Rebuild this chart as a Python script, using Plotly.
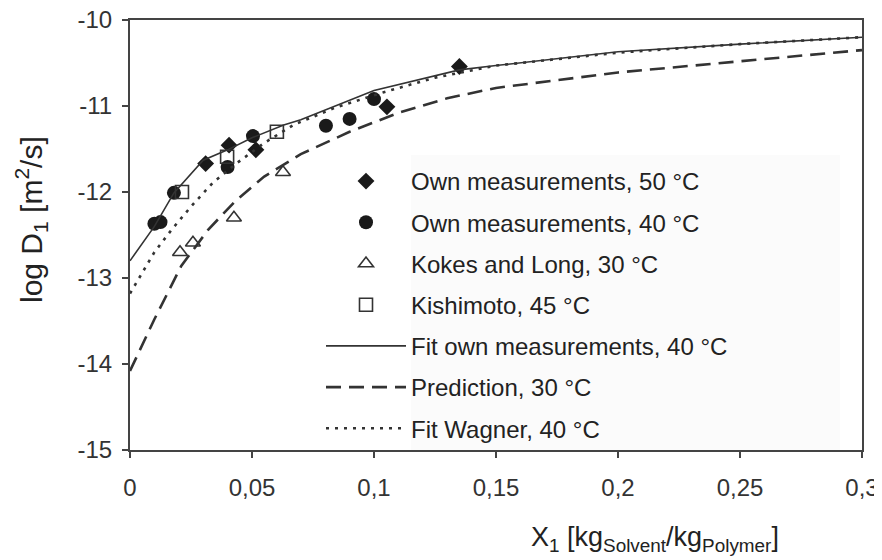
import plotly.graph_objects as go

# ---- data ----
own50_x = [0.031, 0.0406, 0.0516, 0.1053, 0.135]
own50_y = [-11.67, -11.455, -11.51, -11.01, -10.54]

own40_x = [0.0100, 0.0125, 0.018, 0.040, 0.0504, 0.0803, 0.090, 0.100]
own40_y = [-12.37, -12.35, -12.01, -11.71, -11.35, -11.23, -11.15, -10.92]

kokes_x = [0.0205, 0.0258, 0.0426, 0.0627]
kokes_y = [-12.70, -12.59, -12.30, -11.77]

kishi_x = [0.0213, 0.0398, 0.0602]
kishi_y = [-12.00, -11.59, -11.30]

fit_own_x = [0, 0.01, 0.018, 0.03, 0.04, 0.05, 0.063, 0.07, 0.1, 0.135, 0.15, 0.2, 0.25, 0.3]
fit_own_y = [-12.80, -12.40, -12.01, -11.63, -11.51, -11.37, -11.22, -11.16, -10.82, -10.58,
             -10.53, -10.37, -10.28, -10.20]

wagner_x = [0, 0.01, 0.017, 0.025, 0.034, 0.044, 0.055, 0.067, 0.084, 0.104, 0.125, 0.15,
            0.2, 0.25, 0.3]
wagner_y = [-13.18, -12.70, -12.44, -12.17, -11.89, -11.66, -11.43, -11.22, -11.02, -10.84,
            -10.67, -10.53, -10.38, -10.28, -10.20]

pred_x = [0, 0.01, 0.021, 0.032, 0.043, 0.055, 0.07, 0.09, 0.11, 0.13, 0.15, 0.2, 0.25, 0.3]
pred_y = [-14.08, -13.48, -12.86, -12.44, -12.11, -11.82, -11.56, -11.30, -11.08, -10.91,
          -10.79, -10.61, -10.48, -10.35]

x_ticks = [0, 0.05, 0.1, 0.15, 0.2, 0.25, 0.3]
x_ticklabels = ["0", "0,05", "0,1", "0,15", "0,2", "0,25", "0,3"]
y_ticks = [-15, -14, -13, -12, -11, -10]
y_ticklabels = ["-15", "-14", "-13", "-12", "-11", "-10"]

INK = "#1a1a1a"
FONT = "Liberation Sans, Arial, sans-serif"

fig = go.Figure()

fig.add_trace(go.Scatter(x=own50_x, y=own50_y, mode="markers", name="Own measurements, 50 °C",
                         legendgroup="a",
                         marker=dict(symbol="diamond", size=13, color=INK)))
fig.add_trace(go.Scatter(x=own40_x, y=own40_y, mode="markers", name="Own measurements, 40 °C",
                         legendgroup="b",
                         marker=dict(symbol="circle", size=14, color=INK)))
fig.add_trace(go.Scatter(x=kokes_x, y=kokes_y, mode="markers", name="Kokes and Long, 30 °C",
                         legendgroup="c",
                         marker=dict(symbol="triangle-up-open", size=13, color="#333",
                                     line=dict(width=1.6, color="#333"))))
fig.add_trace(go.Scatter(x=kishi_x, y=kishi_y, mode="markers", name="Kishimoto, 45 °C",
                         legendgroup="d",
                         marker=dict(symbol="square-open", size=13, color="#333",
                                     line=dict(width=1.6, color="#333"))))
fig.add_trace(go.Scatter(x=fit_own_x, y=fit_own_y, mode="lines",
                         name="Fit own measurements, 40 °C", legendgroup="e",
                         line=dict(color="#333", width=1.6)))
fig.add_trace(go.Scatter(x=pred_x, y=pred_y, mode="lines", name="Prediction, 30 °C",
                         legendgroup="f",
                         line=dict(color="#333", width=2.6, dash="15px,8px")))
fig.add_trace(go.Scatter(x=wagner_x, y=wagner_y, mode="lines", name="Fit Wagner, 40 °C",
                         legendgroup="g",
                         line=dict(color="#333", width=2.6, dash="3px,6px")))

axis_common = dict(showline=True, linecolor="#444", linewidth=2, mirror=True,
                   ticks="outside", ticklen=6, tickwidth=1.5, tickcolor="#444",
                   showgrid=False, zeroline=False, automargin=False,
                   ticklabeloverflow="allow",
                   tickfont=dict(family=FONT, size=24, color="#333"))

fig.update_xaxes(range=[0, 0.3], tickvals=x_ticks, ticktext=x_ticklabels,
                 ticklabelstandoff=9, **axis_common)
fig.update_yaxes(range=[-15, -10], tickvals=y_ticks, ticktext=y_ticklabels,
                 ticklabelstandoff=5, **axis_common)

fig.add_shape(type="rect", xref="paper", yref="paper",
              x0=(411 - 130) / 732, x1=(840 - 130) / 732,
              y0=0.0, y1=(450 - 155) / 430,
              fillcolor="#fbfbfb", line=dict(width=0), layer="below")

fig.add_annotation(text="log D<sub>1</sub> [m<sup>2</sup>/s]", xref="paper", yref="paper",
                   x=(31 - 130) / 732, y=(450 - 219) / 430, showarrow=False,
                   xanchor="center", yanchor="middle",
                   textangle=-90, font=dict(family=FONT, size=30, color="#222"))
fig.add_annotation(text="X<sub>1</sub> [kg<sub>Solvent</sub>/kg<sub>Polymer</sub>]",
                   xref="paper", yref="paper",
                   x=(655 - 130) / 732, y=(450 - 539) / 430, showarrow=False,
                   xanchor="center", yanchor="middle",
                   font=dict(family=FONT, size=27, color="#222"))

# page body adds an 8px offset; figure is sized so the plot area lands at 130..862 x 20..450
fig.update_layout(
    width=874, height=552,
    margin=dict(l=122, r=20, t=12, b=110),
    paper_bgcolor="white", plot_bgcolor="white",
    font=dict(family=FONT, color="#222"),
    showlegend=True,
    legend=dict(x=(321 - 130) / 732, y=(450 - 159) / 430, xanchor="left", yanchor="top",
                bgcolor="rgba(0,0,0,0)", font=dict(family=FONT, size=24, color="#222"),
                itemwidth=80, tracegroupgap=7, traceorder="grouped"),
)

fig.write_html("out.html")
